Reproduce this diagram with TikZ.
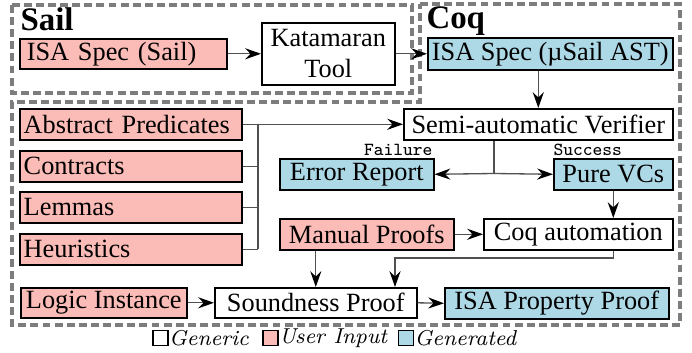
\documentclass[tikz,border=0pt]{standalone}
\usepackage{fontspec}
\newfontfamily\libfont{Liberation Serif}
\usetikzlibrary{arrows.meta,calc}
\definecolor{pinkfill}{RGB}{251,187,182}
\definecolor{bluefill}{RGB}{173,216,230}
\definecolor{dashgray}{RGB}{125,125,125}
\definecolor{linegray}{RGB}{80,80,80}
\begin{document}
\begin{tikzpicture}[x=0.38pt,y=-0.38pt,
  box/.style={draw=black, line width=0.6pt, inner sep=0pt, anchor=north west,
    font=\libfont\fontsize{10}{11.8}\selectfont, align=center, minimum height=11.78pt},
  pinkb/.style={box, fill=pinkfill},
  blueb/.style={box, fill=bluefill},
  whiteb/.style={box, fill=white},
  leftb/.style={pinkb, align=left, inner xsep=1.5pt, text width=81.36pt, minimum width=84.36pt},
  region/.style={draw=dashgray, line width=1.15pt, dash pattern=on 3pt off 1.6pt},
  titletext/.style={inner sep=0pt, anchor=base west, font=\libfont\bfseries\fontsize{12.5}{14}\selectfont},
  conn/.style={draw=linegray, line width=0.5pt},
  arr/.style={conn, -{Stealth[length=6pt,width=4.2pt,inset=2pt,color=black]}},
  lab/.style={inner sep=0pt, font=\ttfamily\fontsize{7}{8}\selectfont},
  legsq/.style={draw=black, line width=0.4pt, minimum size=5.7pt, inner sep=0pt},
  legtxt/.style={inner sep=0pt, anchor=west, font=\itshape\fontsize{8.2}{10}\selectfont}
]
\useasboundingbox (0,0) rectangle (692,353);

% regions
\draw[region] (12,5) rectangle (412,93);
\draw[region] (420,4) -- (680,4) -- (680,325) -- (12,325) -- (12,102) -- (420,102) -- cycle;
\node[titletext] (sailt) at (20,31) {Sail};
\node[titletext] (coqt) at (426,29) {Coq};

% top row
\node[pinkb, align=left, inner xsep=2.66pt, text width=73.3pt, minimum width=78.66pt, minimum height=11.4pt] (isasail) at (19,38) {ISA Spec (Sail)};
\node[whiteb, minimum width=50.54pt, minimum height=23.56pt] (kat) at (261,22) {Katamaran\\Tool};
\node[blueb, minimum width=93.1pt, minimum height=12.16pt] (isamu) at (427,37) {ISA Spec (µSail AST)};

% verifier
\node[whiteb, minimum width=102.22pt] (verif) at (403,108) {Semi-automatic Verifier};

% left stack
\node[leftb] (abs) at (19,108) {Abstract Predicates};
\node[leftb] (con) at (19,150) {Contracts};
\node[leftb] (lem) at (19,191) {Lemmas};
\node[leftb] (heu) at (19,233) {Heuristics};

% results
\node[blueb, minimum width=58.52pt] (err) at (279,158) {Error Report};
\node[blueb, minimum width=45.22pt] (pure) at (553,158) {Pure VCs};
\node[pinkb, minimum width=66.12pt] (manual) at (279,218) {Manual Proofs};
\node[whiteb, minimum width=71.82pt] (coqa) at (483,218) {Coq automation};

% bottom row
\node[pinkb, minimum width=63.08pt, minimum height=11.4pt] (logic) at (20,287) {Logic Instance};
\node[whiteb, minimum width=76.76pt, minimum height=11.4pt] (sound) at (214,287) {Soundness Proof};
\node[blueb, minimum width=85.12pt] (prop) at (444,287) {ISA Property Proof};

% labels
\node[lab, anchor=east] (fail) at (433,150) {Failure};
\node[lab, anchor=west] (succ) at (553,150) {Success};

% connectors
\draw[arr] (isasail.east) -- (isasail.east -| kat.west);
\draw[arr] (kat.east |- isamu.west) -- (isamu.west);
\draw[arr] (verif.north |- isamu.south) -- (verif.north);
\draw[arr] (abs.east) -- (verif.west);

\coordinate (bus) at (258,0);
\draw[conn] (abs.east -| bus) -- (heu.east -| bus);
\draw[conn] (con.east) -- (con.east -| bus);
\draw[conn] (lem.east) -- (lem.east -| bus);
\draw[conn] (heu.east) -- (heu.east -| bus);

\coordinate (split) at (494,173.5);
\draw[conn] (verif.south -| split) -- (split);
\draw[arr] (split) -- (err.east);
\draw[arr] (split) -- (pure.west);

\draw[arr] (pure.south) -- (pure.south |- coqa.north);
\draw[arr] (manual.east) -- (coqa.west);

\draw[arr] (sound.north |- manual.south) -- (sound.north);
\coordinate (cturn) at (395,258);
\draw[arr] (pure.south |- coqa.south) |- (cturn) -- (cturn |- sound.north);

\draw[arr] (logic.east) -- (sound.west);
\draw[arr] (sound.east) -- (prop.west);

% legend
\node[legsq, fill=white] (lg1) at (160.5,338) {};
\node[legtxt] (lt1) at (lg1.east) {Generic};
\node[legsq, fill=pinkfill] (lg2) at (270.5,338) {};
\node[legtxt] (lt2) at (lg2.east) {User Input};
\node[legsq, fill=bluefill] (lg3) at (406,338) {};
\node[legtxt] (lt3) at (lg3.east) {Generated};
\end{tikzpicture}
\end{document}
